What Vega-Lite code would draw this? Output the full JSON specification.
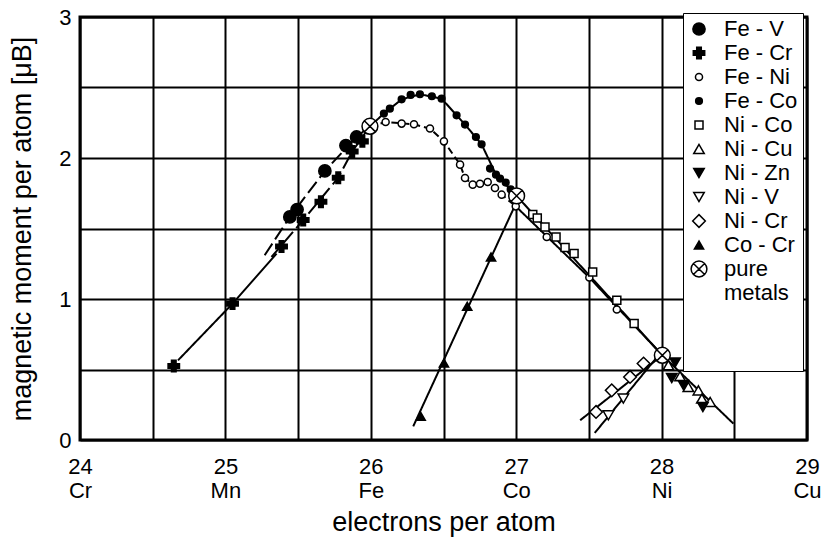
{
  "$schema": "https://vega.github.io/schema/vega-lite/v6.json",
  "width": 727,
  "height": 423,
  "autosize": "none",
  "padding": {"left": 80, "top": 17, "right": 20, "bottom": 109},
  "background": "white",
  "config": {
    "font": "Liberation Sans",
    "view": {"stroke": "black", "strokeWidth": 3},
    "axis": {"gridColor": "black", "gridWidth": 2, "gridOpacity": 1, "domain": false, "ticks": false, "labelColor": "black", "titleColor": "black", "labelFont": "Liberation Sans", "titleFont": "Liberation Sans", "titleFontWeight": "normal"},
    "legend": {"orient": "none", "legendX": 603, "legendY": -4, "fillColor": "white", "strokeColor": "black", "padding": 5,
      "labelFontSize": 22, "labelLineHeight": 23, "labelOffset": 14, "rowPadding": 2, "labelColor": "black",
      "symbolStrokeWidth": 1.5, "labelLimit": 200,
      "titleOrient": "bottom", "titleFontSize": 10, "titlePadding": 52, "titleLimit": 300}
  },
  "datasets": {
    "pts": [
      {"s": "Fe - V", "x": 25.443, "y": 1.582},
      {"s": "Fe - V", "x": 25.493, "y": 1.634},
      {"s": "Fe - V", "x": 25.684, "y": 1.908},
      {"s": "Fe - V", "x": 25.829, "y": 2.088},
      {"s": "Fe - V", "x": 25.902, "y": 2.149},
      {"s": "Fe - Cr", "x": 24.645, "y": 0.525},
      {"s": "Fe - Cr", "x": 25.049, "y": 0.967},
      {"s": "Fe - Cr", "x": 25.386, "y": 1.372},
      {"s": "Fe - Cr", "x": 25.535, "y": 1.56},
      {"s": "Fe - Cr", "x": 25.657, "y": 1.69},
      {"s": "Fe - Cr", "x": 25.776, "y": 1.86},
      {"s": "Fe - Cr", "x": 25.872, "y": 2.046},
      {"s": "Fe - Cr", "x": 25.942, "y": 2.118},
      {"s": "Fe - Ni", "x": 26.102, "y": 2.255},
      {"s": "Fe - Ni", "x": 26.212, "y": 2.244},
      {"s": "Fe - Ni", "x": 26.297, "y": 2.239},
      {"s": "Fe - Ni", "x": 26.407, "y": 2.209},
      {"s": "Fe - Ni", "x": 26.503, "y": 2.118},
      {"s": "Fe - Ni", "x": 26.614, "y": 1.953},
      {"s": "Fe - Ni", "x": 26.648, "y": 1.858},
      {"s": "Fe - Ni", "x": 26.701, "y": 1.811},
      {"s": "Fe - Ni", "x": 26.751, "y": 1.818},
      {"s": "Fe - Ni", "x": 26.804, "y": 1.83},
      {"s": "Fe - Ni", "x": 26.854, "y": 1.787},
      {"s": "Fe - Ni", "x": 26.9, "y": 1.74},
      {"s": "Fe - Ni", "x": 26.997, "y": 1.657},
      {"s": "Fe - Ni", "x": 27.21, "y": 1.44},
      {"s": "Fe - Ni", "x": 27.503, "y": 1.152},
      {"s": "Fe - Ni", "x": 27.692, "y": 0.925},
      {"s": "Fe - Co", "x": 26.09, "y": 2.315},
      {"s": "Fe - Co", "x": 26.131, "y": 2.35},
      {"s": "Fe - Co", "x": 26.212, "y": 2.416},
      {"s": "Fe - Co", "x": 26.274, "y": 2.447},
      {"s": "Fe - Co", "x": 26.338, "y": 2.452},
      {"s": "Fe - Co", "x": 26.42, "y": 2.438},
      {"s": "Fe - Co", "x": 26.487, "y": 2.421},
      {"s": "Fe - Co", "x": 26.59, "y": 2.303},
      {"s": "Fe - Co", "x": 26.648, "y": 2.237},
      {"s": "Fe - Co", "x": 26.723, "y": 2.149},
      {"s": "Fe - Co", "x": 26.762, "y": 2.097},
      {"s": "Fe - Co", "x": 26.82, "y": 1.925},
      {"s": "Fe - Co", "x": 26.861, "y": 1.882},
      {"s": "Fe - Co", "x": 26.889, "y": 1.854},
      {"s": "Fe - Co", "x": 26.928, "y": 1.826},
      {"s": "Fe - Co", "x": 26.962, "y": 1.778},
      {"s": "Ni - Co", "x": 27.114, "y": 1.599},
      {"s": "Ni - Co", "x": 27.145, "y": 1.575},
      {"s": "Ni - Co", "x": 27.198, "y": 1.511},
      {"s": "Ni - Co", "x": 27.274, "y": 1.44},
      {"s": "Ni - Co", "x": 27.336, "y": 1.365},
      {"s": "Ni - Co", "x": 27.398, "y": 1.322},
      {"s": "Ni - Co", "x": 27.526, "y": 1.191},
      {"s": "Ni - Co", "x": 27.692, "y": 0.991},
      {"s": "Ni - Co", "x": 27.811, "y": 0.826},
      {"s": "Ni - Cu", "x": 28.047, "y": 0.53},
      {"s": "Ni - Cu", "x": 28.127, "y": 0.452},
      {"s": "Ni - Cu", "x": 28.184, "y": 0.376},
      {"s": "Ni - Cu", "x": 28.253, "y": 0.352},
      {"s": "Ni - Cu", "x": 28.277, "y": 0.294},
      {"s": "Ni - Cu", "x": 28.334, "y": 0.27},
      {"s": "Ni - Zn", "x": 28.093, "y": 0.55},
      {"s": "Ni - Zn", "x": 28.07, "y": 0.44},
      {"s": "Ni - Zn", "x": 28.15, "y": 0.39},
      {"s": "Ni - Zn", "x": 28.284, "y": 0.234},
      {"s": "Ni - V", "x": 27.737, "y": 0.294},
      {"s": "Ni - V", "x": 27.634, "y": 0.175},
      {"s": "Ni - Cr", "x": 27.876, "y": 0.542},
      {"s": "Ni - Cr", "x": 27.783, "y": 0.447},
      {"s": "Ni - Cr", "x": 27.657, "y": 0.352},
      {"s": "Ni - Cr", "x": 27.549, "y": 0.199},
      {"s": "Co - Cr", "x": 26.343, "y": 0.168},
      {"s": "Co - Cr", "x": 26.503, "y": 0.546},
      {"s": "Co - Cr", "x": 26.663, "y": 0.948},
      {"s": "Co - Cr", "x": 26.827, "y": 1.298},
      {"s": "pure metals", "x": 25.994, "y": 2.225},
      {"s": "pure metals", "x": 27.003, "y": 1.731},
      {"s": "pure metals", "x": 28.005, "y": 0.601}
    ],
    "lines": [
      {"seg": "FeV", "o": 1, "x": 25.27, "y": 1.31},
      {"seg": "FeV", "o": 2, "x": 25.443, "y": 1.582},
      {"seg": "FeV", "o": 3, "x": 25.684, "y": 1.908},
      {"seg": "FeV", "o": 4, "x": 25.902, "y": 2.149},
      {"seg": "FeV", "o": 5, "x": 25.994, "y": 2.225},
      {"seg": "FeCr1", "o": 1, "x": 24.674, "y": 0.565},
      {"seg": "FeCr1", "o": 2, "x": 25.049, "y": 0.967},
      {"seg": "FeCr1", "o": 3, "x": 25.352, "y": 1.322},
      {"seg": "FeCr2", "o": 1, "x": 25.317, "y": 1.298},
      {"seg": "FeCr2", "o": 2, "x": 25.535, "y": 1.56},
      {"seg": "FeCr2", "o": 3, "x": 25.776, "y": 1.86},
      {"seg": "FeCr2", "o": 4, "x": 25.872, "y": 2.046},
      {"seg": "FeCr2", "o": 5, "x": 25.994, "y": 2.225},
      {"seg": "FeCo", "o": 1, "x": 25.994, "y": 2.225},
      {"seg": "FeCo", "o": 2, "x": 26.09, "y": 2.315},
      {"seg": "FeCo", "o": 3, "x": 26.212, "y": 2.416},
      {"seg": "FeCo", "o": 4, "x": 26.338, "y": 2.452},
      {"seg": "FeCo", "o": 5, "x": 26.487, "y": 2.421},
      {"seg": "FeCo", "o": 6, "x": 26.648, "y": 2.237},
      {"seg": "FeCo", "o": 7, "x": 26.762, "y": 2.097},
      {"seg": "FeCo", "o": 8, "x": 26.861, "y": 1.882},
      {"seg": "FeCo", "o": 9, "x": 27.003, "y": 1.731},
      {"seg": "FeNi", "o": 1, "x": 25.994, "y": 2.225},
      {"seg": "FeNi", "o": 2, "x": 26.102, "y": 2.255},
      {"seg": "FeNi", "o": 3, "x": 26.297, "y": 2.239},
      {"seg": "FeNi", "o": 4, "x": 26.407, "y": 2.209},
      {"seg": "FeNi", "o": 5, "x": 26.503, "y": 2.118},
      {"seg": "FeNi", "o": 6, "x": 26.614, "y": 1.953},
      {"seg": "FeNi", "o": 7, "x": 26.648, "y": 1.858},
      {"seg": "FeNi", "o": 8, "x": 26.701, "y": 1.811},
      {"seg": "FeNi", "o": 9, "x": 26.804, "y": 1.83},
      {"seg": "FeNi", "o": 10, "x": 26.9, "y": 1.74},
      {"seg": "FeNi", "o": 11, "x": 26.997, "y": 1.657},
      {"seg": "FeNi2", "o": 1, "x": 26.997, "y": 1.657},
      {"seg": "FeNi2", "o": 2, "x": 27.503, "y": 1.152},
      {"seg": "FeNi2", "o": 3, "x": 28.005, "y": 0.601},
      {"seg": "NiCo", "o": 1, "x": 27.003, "y": 1.731},
      {"seg": "NiCo", "o": 2, "x": 28.005, "y": 0.601},
      {"seg": "NiCo", "o": 3, "x": 28.494, "y": 0.116},
      {"seg": "CoCr", "o": 1, "x": 26.292, "y": 0.097},
      {"seg": "CoCr", "o": 2, "x": 26.992, "y": 1.664},
      {"seg": "NiCr", "o": 1, "x": 27.44, "y": 0.14},
      {"seg": "NiCr", "o": 2, "x": 28.005, "y": 0.601},
      {"seg": "NiV", "o": 1, "x": 27.54, "y": 0.05},
      {"seg": "NiV", "o": 2, "x": 27.97, "y": 0.59}
    ]
  },
  "layer": [
    {
      "data": {"name": "lines"},
      "mark": {"type": "line", "color": "black", "strokeWidth": 2},
      "encoding": {
        "x": {"field": "x", "type": "quantitative", "scale": {"domain": [24, 29], "nice": false, "zero": false},
          "axis": {"values": [24, 24.5, 25, 25.5, 26, 26.5, 27, 27.5, 28, 28.5, 29],
            "labelExpr": "datum.value % 1 != 0 ? '' : [format(datum.value, 'd'), datum.value == 24 ? 'Cr' : datum.value == 25 ? 'Mn' : datum.value == 26 ? 'Fe' : datum.value == 27 ? 'Co' : datum.value == 28 ? 'Ni' : 'Cu']",
            "labelFontSize": 22, "labelLineHeight": 24, "labelPadding": 16, "labelFlush": false, "labelOverlap": false,
            "title": "electrons per atom", "titleFontSize": 27, "titlePadding": 8}},
        "y": {"field": "y", "type": "quantitative", "scale": {"domain": [0, 3], "nice": false, "zero": false},
          "axis": {"values": [0, 0.5, 1, 1.5, 2, 2.5, 3], "labelExpr": "datum.value % 1 != 0 ? '' : format(datum.value, 'd')",
            "labelFontSize": 22, "labelPadding": 9, "labelFlush": false, "labelOverlap": false,
            "title": "magnetic moment per atom  [μB]", "titleFontSize": 27, "titlePadding": 22}},
        "detail": {"field": "seg"},
        "order": {"field": "o", "type": "quantitative"},
        "strokeDash": {"field": "seg", "type": "nominal", "legend": null,
          "scale": {"domain": ["FeV", "FeCr1", "FeCr2", "FeCo", "FeNi", "FeNi2", "NiCo", "CoCr", "NiCr", "NiV"],
            "range": [[14, 5], [1, 0], [14, 5], [1, 0], [7, 4], [1, 0], [1, 0], [1, 0], [1, 0], [1, 0]]}}
      }
    },
    {
      "data": {"name": "pts"},
      "mark": {"type": "point", "filled": true, "strokeWidth": 1.5, "opacity": 1},
      "encoding": {
        "x": {"field": "x", "type": "quantitative"},
        "y": {"field": "y", "type": "quantitative"},
        "stroke": {"field": "s", "type": "nominal", "title": "\u00a0\u00a0\u00a0\u00a0\u00a0\u00a0\u00a0\u00a0\u00a0\u00a0\u00a0\u00a0\u00a0\u00a0\u00a0\u00a0\u00a0\u00a0\u00a0\u00a0\u00a0\u00a0\u00a0\u00a0\u00a0\u00a0\u00a0\u00a0\u00a0\u00a0\u00a0\u00a0\u00a0\u00a0\u00a0\u00a0\u00a0\u00a0\u00a0\u00a0\u00a0\u00a0\u00a0",
          "scale": {"domain": ["Fe - V", "Fe - Cr", "Fe - Ni", "Fe - Co", "Ni - Co", "Ni - Cu", "Ni - Zn", "Ni - V", "Ni - Cr", "Co - Cr", "pure metals"],
            "range": ["black", "black", "black", "black", "black", "black", "black", "black", "black", "black", "black"]},
          "legend": {"labelExpr": "datum.label == 'pure metals' ? ['pure', 'metals'] : datum.label"}},
        "shape": {"field": "s", "type": "nominal", "title": "\u00a0\u00a0\u00a0\u00a0\u00a0\u00a0\u00a0\u00a0\u00a0\u00a0\u00a0\u00a0\u00a0\u00a0\u00a0\u00a0\u00a0\u00a0\u00a0\u00a0\u00a0\u00a0\u00a0\u00a0\u00a0\u00a0\u00a0\u00a0\u00a0\u00a0\u00a0\u00a0\u00a0\u00a0\u00a0\u00a0\u00a0\u00a0\u00a0\u00a0\u00a0\u00a0\u00a0",
          "scale": {"domain": ["Fe - V", "Fe - Cr", "Fe - Ni", "Fe - Co", "Ni - Co", "Ni - Cu", "Ni - Zn", "Ni - V", "Ni - Cr", "Co - Cr", "pure metals"],
            "range": ["circle", "cross", "circle", "circle", "square", "triangle-up", "triangle-down", "triangle-down", "diamond", "triangle-up",
              "M-1,0A1,1 0 1,1 1,0A1,1 0 1,1 -1,0Z M-0.707,-0.707L0.707,0.707 M-0.707,0.707L0.707,-0.707"]},
          "legend": {"labelExpr": "datum.label == 'pure metals' ? ['pure', 'metals'] : datum.label"}},
        "fill": {"field": "s", "type": "nominal", "title": "\u00a0\u00a0\u00a0\u00a0\u00a0\u00a0\u00a0\u00a0\u00a0\u00a0\u00a0\u00a0\u00a0\u00a0\u00a0\u00a0\u00a0\u00a0\u00a0\u00a0\u00a0\u00a0\u00a0\u00a0\u00a0\u00a0\u00a0\u00a0\u00a0\u00a0\u00a0\u00a0\u00a0\u00a0\u00a0\u00a0\u00a0\u00a0\u00a0\u00a0\u00a0\u00a0\u00a0",
          "scale": {"domain": ["Fe - V", "Fe - Cr", "Fe - Ni", "Fe - Co", "Ni - Co", "Ni - Cu", "Ni - Zn", "Ni - V", "Ni - Cr", "Co - Cr", "pure metals"],
            "range": ["black", "black", "white", "black", "white", "white", "black", "white", "white", "black", "white"]},
          "legend": {"labelExpr": "datum.label == 'pure metals' ? ['pure', 'metals'] : datum.label"}},
        "size": {"field": "s", "type": "nominal", "title": "\u00a0\u00a0\u00a0\u00a0\u00a0\u00a0\u00a0\u00a0\u00a0\u00a0\u00a0\u00a0\u00a0\u00a0\u00a0\u00a0\u00a0\u00a0\u00a0\u00a0\u00a0\u00a0\u00a0\u00a0\u00a0\u00a0\u00a0\u00a0\u00a0\u00a0\u00a0\u00a0\u00a0\u00a0\u00a0\u00a0\u00a0\u00a0\u00a0\u00a0\u00a0\u00a0\u00a0",
          "scale": {"type": "ordinal", "domain": ["Fe - V", "Fe - Cr", "Fe - Ni", "Fe - Co", "Ni - Co", "Ni - Cu", "Ni - Zn", "Ni - V", "Ni - Cr", "Co - Cr", "pure metals"],
            "range": [150, 130, 50, 45, 64, 110, 110, 110, 160, 85, 250]},
          "legend": {"labelExpr": "datum.label == 'pure metals' ? ['pure', 'metals'] : datum.label"}}
      }
    }
  ]
}
